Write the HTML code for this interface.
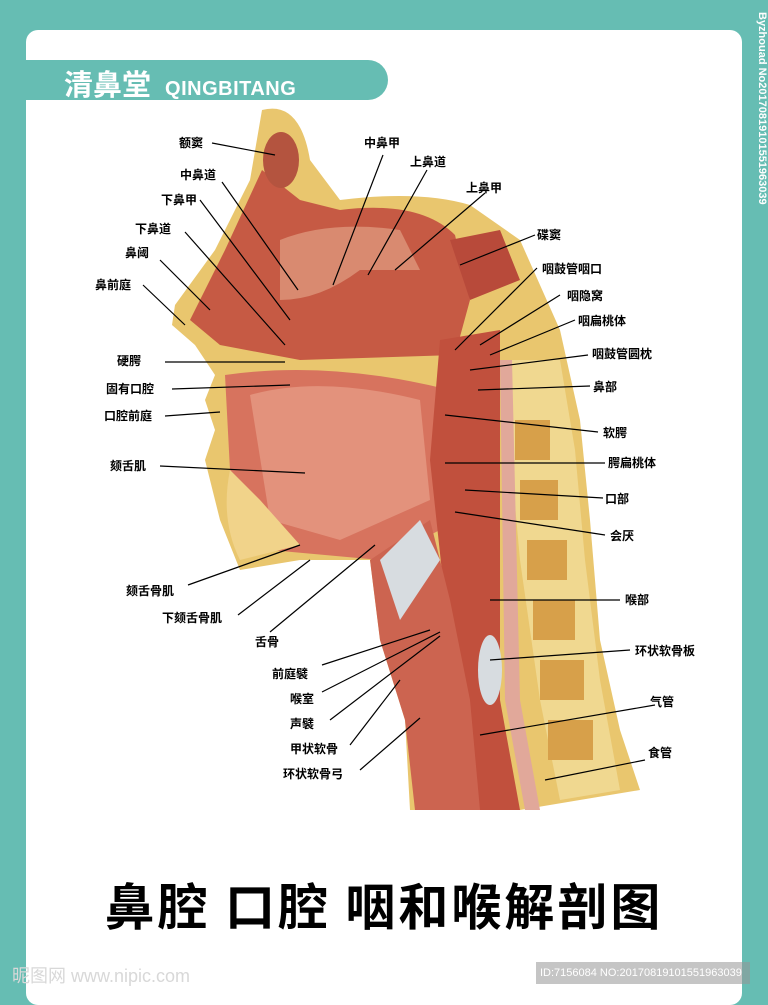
<!DOCTYPE html>
<html><head><meta charset="utf-8"><style>
body{margin:0;width:768px;height:993px;background:#66bdb3;overflow:hidden;position:relative;font-family:"Liberation Sans","Noto Sans CJK SC",sans-serif}
.card{position:absolute;left:26px;top:30px;width:716px;height:975px;background:#fff;border-radius:12px}
.band{position:absolute;left:26px;top:60px;width:362px;height:40px;background:#66bdb3;border-radius:0 20px 20px 0}
.band span{position:absolute;left:38px;top:2px;color:#fff;font-weight:bold;font-size:29px;white-space:nowrap}
.band small{font-size:20px;margin-left:14px;letter-spacing:0.5px}
.title{position:absolute;left:0;width:768px;top:868px;text-align:center;font-size:50px;font-weight:bold;letter-spacing:3px;font-family:"Noto Sans CJK SC",sans-serif;white-space:nowrap}
.side{position:absolute;left:744px;top:12px;width:24px;height:300px;color:#fff;font-size:11px;writing-mode:vertical-rl;font-weight:bold;white-space:nowrap}
.wm{position:absolute;left:12px;top:962px;color:#d8d8d8;font-size:18px;white-space:nowrap}
.id{position:absolute;left:536px;top:962px;width:210px;height:22px;background:rgba(150,150,150,.55);color:#fff;font-size:11px;line-height:22px;padding-left:4px;white-space:nowrap}
svg{position:absolute;left:0;top:0}
text{font-family:"Liberation Sans","Noto Sans CJK SC",sans-serif;font-size:12px;font-weight:bold;fill:#000}
</style></head><body>
<div class="card"></div>
<div class="band"><span>清鼻堂<small>QINGBITANG</small></span></div>
<div class="side">Byzhouad No20170819101551963039</div>
<svg width="768" height="993">
<path d="M262,110 Q300,100 310,160 L340,200 Q420,190 470,205 L520,240 L560,330 L580,420 L590,520 L600,640 L620,730 L640,790 L520,810 L410,810 L405,720 L380,640 L370,560 L300,560 L240,570 L220,520 L205,460 L215,430 L205,400 L215,375 L195,345 L172,325 L175,305 L215,250 L250,180 Z" fill="#e9c66e"/>
<path d="M190,320 L225,250 L262,170 L300,200 L340,210 Q420,200 455,235 L470,300 L455,355 L300,360 L220,345 Z" fill="#c65a44"/>
<path d="M280,240 Q330,220 400,230 L420,270 L360,270 Q320,300 280,300 Z" fill="#d98a70"/>
<ellipse cx="281" cy="160" rx="18" ry="28" fill="#b4543f"/>
<path d="M450,240 L500,230 L520,280 L470,300 Z" fill="#b84a3a"/>
<path d="M225,375 Q330,360 450,390 L460,520 L380,560 L270,550 L230,470 Z" fill="#d7735e"/>
<path d="M250,395 Q320,375 420,400 L430,500 L340,540 L270,520 Z" fill="#e3927c"/>
<path d="M440,340 L500,330 L500,700 L520,810 L470,810 L455,720 L445,600 L430,460 Z" fill="#c1503d"/>
<path d="M370,560 L430,520 L450,600 L470,700 L480,810 L415,810 L405,720 L380,640 Z" fill="#cc6450"/>
<path d="M380,560 L420,520 L440,560 L400,620 Z" fill="#d7dce0"/>
<path d="M505,360 L560,360 L575,450 L585,560 L600,680 L620,790 L560,800 L540,700 L520,560 L510,450 Z" fill="#f0d890"/>
<g fill="#d7a04a"><rect x="515" y="420" width="35" height="40"/><rect x="520" y="480" width="38" height="40"/><rect x="527" y="540" width="40" height="40"/><rect x="533" y="600" width="42" height="40"/><rect x="540" y="660" width="44" height="40"/><rect x="548" y="720" width="45" height="40"/></g>
<path d="M500,360 L505,700 L525,810 L540,810 L520,700 L512,360 Z" fill="#e1a89a"/>
<ellipse cx="490" cy="670" rx="12" ry="35" fill="#d7dce0"/>
<path d="M230,470 Q220,520 240,560 L300,545 L260,500 Z" fill="#f1d38a"/>
<g stroke="#000" stroke-width="1.2" fill="none">
<line x1="212" y1="143" x2="275" y2="155"/>
<line x1="222" y1="182" x2="298" y2="290"/>
<line x1="200" y1="200" x2="290" y2="320"/>
<line x1="185" y1="232" x2="285" y2="345"/>
<line x1="160" y1="260" x2="210" y2="310"/>
<line x1="143" y1="285" x2="185" y2="325"/>
<line x1="165" y1="362" x2="285" y2="362"/>
<line x1="172" y1="389" x2="290" y2="385"/>
<line x1="165" y1="416" x2="220" y2="412"/>
<line x1="160" y1="466" x2="305" y2="473"/>
<line x1="188" y1="585" x2="300" y2="545"/>
<line x1="238" y1="615" x2="310" y2="560"/>
<line x1="270" y1="632" x2="375" y2="545"/>
<line x1="322" y1="665" x2="430" y2="630"/>
<line x1="322" y1="692" x2="440" y2="632"/>
<line x1="330" y1="720" x2="440" y2="636"/>
<line x1="350" y1="745" x2="400" y2="680"/>
<line x1="360" y1="770" x2="420" y2="718"/>
<line x1="383" y1="155" x2="333" y2="285"/>
<line x1="427" y1="170" x2="368" y2="275"/>
<line x1="485" y1="193" x2="395" y2="270"/>
<line x1="535" y1="235" x2="460" y2="265"/>
<line x1="537" y1="268" x2="455" y2="350"/>
<line x1="560" y1="295" x2="480" y2="345"/>
<line x1="575" y1="320" x2="490" y2="355"/>
<line x1="588" y1="355" x2="470" y2="370"/>
<line x1="590" y1="386" x2="478" y2="390"/>
<line x1="598" y1="432" x2="445" y2="415"/>
<line x1="605" y1="463" x2="445" y2="463"/>
<line x1="603" y1="498" x2="465" y2="490"/>
<line x1="605" y1="535" x2="455" y2="512"/>
<line x1="620" y1="600" x2="490" y2="600"/>
<line x1="630" y1="650" x2="490" y2="660"/>
<line x1="655" y1="705" x2="480" y2="735"/>
<line x1="645" y1="760" x2="545" y2="780"/>
</g>
<text x="179" y="147">额窦</text>
<text x="180" y="179">中鼻道</text>
<text x="161" y="204">下鼻甲</text>
<text x="135" y="233">下鼻道</text>
<text x="125" y="257">鼻阈</text>
<text x="95" y="289">鼻前庭</text>
<text x="117" y="365">硬腭</text>
<text x="106" y="393">固有口腔</text>
<text x="104" y="420">口腔前庭</text>
<text x="110" y="470">颏舌肌</text>
<text x="126" y="595">颏舌骨肌</text>
<text x="162" y="622">下颏舌骨肌</text>
<text x="255" y="646">舌骨</text>
<text x="272" y="678">前庭襞</text>
<text x="290" y="703">喉室</text>
<text x="290" y="728">声襞</text>
<text x="290" y="753">甲状软骨</text>
<text x="283" y="778">环状软骨弓</text>
<text x="364" y="147">中鼻甲</text>
<text x="410" y="166">上鼻道</text>
<text x="466" y="192">上鼻甲</text>
<text x="537" y="239">碟窦</text>
<text x="542" y="273">咽鼓管咽口</text>
<text x="567" y="300">咽隐窝</text>
<text x="578" y="325">咽扁桃体</text>
<text x="592" y="358">咽鼓管圆枕</text>
<text x="593" y="391">鼻部</text>
<text x="603" y="437">软腭</text>
<text x="608" y="467">腭扁桃体</text>
<text x="605" y="503">口部</text>
<text x="610" y="540">会厌</text>
<text x="625" y="604">喉部</text>
<text x="635" y="655">环状软骨板</text>
<text x="650" y="706">气管</text>
<text x="648" y="757">食管</text>
</svg>
<div class="title">鼻腔 口腔 咽和喉解剖图</div>
<div class="wm">昵图网 www.nipic.com</div>
<div class="id">ID:7156084 NO:20170819101551963039</div>
</body></html>
